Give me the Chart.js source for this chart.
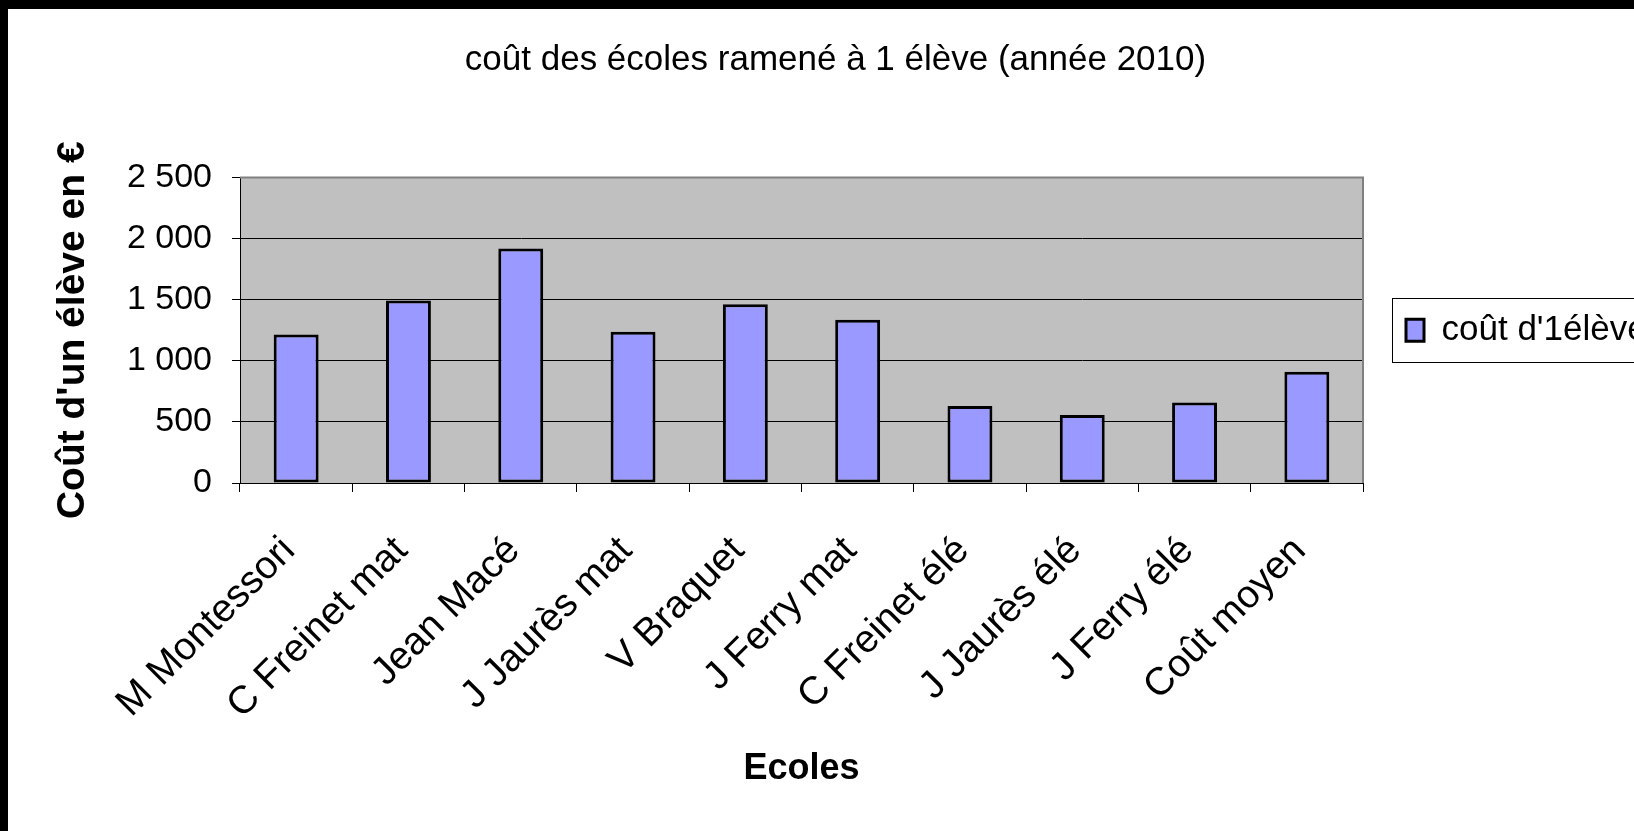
<!DOCTYPE html>
<html><head><meta charset="utf-8">
<script src="https://cdn.jsdelivr.net/npm/chart.js@4/dist/chart.umd.min.js"></script>
<style>
html,body{margin:0;padding:0;background:#000;overflow:hidden;width:1634px;height:831px}
#wrap{position:absolute;left:8px;top:9px;width:1626px;height:822px;background:#fff;overflow:hidden}
canvas{display:block}
</style></head><body>
<div id="wrap"><canvas id="c" width="1626" height="822"></canvas></div>
<script>
const categories = ['M Montessori', 'C Freinet mat', 'Jean Macé', 'J Jaurès mat', 'V Braquet', 'J Ferry mat', 'C Freinet élé', 'J Jaurès élé', 'J Ferry élé', 'Coût moyen'];
const costPerPupil = [1215, 1494, 1920, 1237, 1463, 1335, 630, 557, 658, 911];
const yTickValues = [0, 500, 1000, 1500, 2000, 2500];
const seriesName = "coût d'1élève";
const chartTitle = 'coût des écoles ramené à 1 élève (année 2010)';
const yAxisTitle = "Coût d'un élève en €";
const xAxisTitle = 'Ecoles';

const FONT = "'Liberation Sans', Arial, sans-serif";
const fmt = v => String(v).replace(/\B(?=(\d{3})+(?!\d))/g, ' ');

const plotFrame = {
  id: 'plotFrame',
  beforeDraw(chart) {
    const {ctx, chartArea: a} = chart;
    ctx.save();
    ctx.fillStyle = '#C0C0C0';
    ctx.fillRect(a.left, a.top, a.width, a.height);
    ctx.restore();
  },
  beforeDatasetsDraw(chart) {
    const {ctx, chartArea: a} = chart;
    ctx.save();
    ctx.strokeStyle = '#808080';
    ctx.lineWidth = 2;
    ctx.beginPath();
    ctx.moveTo(a.left, a.top);
    ctx.lineTo(a.right, a.top);
    ctx.lineTo(a.right, a.bottom);
    ctx.stroke();
    ctx.restore();
  },
  afterDraw(chart) {
    const lg = chart.legend;
    if (!lg || !lg.legendHitBoxes || !lg.legendHitBoxes.length) return;
    const hb = lg.legendHitBoxes[0];
    const cy = hb.top + hb.height / 2;
    const ctx = chart.ctx;
    ctx.save();
    ctx.strokeStyle = '#000';
    ctx.lineWidth = 1;
    ctx.strokeRect(Math.round(hb.left - 14) + 0.5, Math.round(cy - 32) + 0.5, chart.width, 64);
    ctx.restore();
  }
};

new Chart(document.getElementById('c'), {
  type: 'bar',
  data: {
    labels: categories,
    datasets: [{
      label: seriesName,
      data: costPerPupil,
      backgroundColor: '#9999FF',
      borderColor: '#000',
      borderWidth: 3,
      borderSkipped: false,
      barPercentage: 0.4,
      categoryPercentage: 1
    }]
  },
  plugins: [plotFrame],
  options: {
    responsive: false,
    animation: false,
    devicePixelRatio: 1,
    layout: {padding: {left: 29, right: 0, top: 0, bottom: 0}},
    plugins: {
      tooltip: {enabled: false},
      title: {
        display: true,
        text: chartTitle,
        color: '#000',
        font: {family: FONT, size: 35, weight: 'normal'},
        padding: {top: 30, bottom: 96.5}
      },
      legend: {
        display: true,
        position: 'right',
        fullSize: false,
        maxWidth: 271,
        labels: {
          color: '#000',
          font: {family: FONT, size: 35},
          boxWidth: 18,
          boxHeight: 22,
          padding: 43
        }
      }
    },
    scales: {
      x: {
        grid: {display: true, drawOnChartArea: false, drawTicks: true, tickLength: 9, color: '#000', offset: true},
        border: {display: true, color: '#000', width: 1},
        ticks: {color: '#000', font: {family: FONT, size: 39}, minRotation: 45, maxRotation: 45, autoSkip: false, padding: 36, labelOffset: -7},
        title: {display: true, text: xAxisTitle, color: '#000', font: {family: FONT, size: 36, weight: 'bold'}, padding: {top: 0, bottom: 40}},
        afterFit(s) { s.height = 348; }
      },
      y: {
        min: 0,
        max: 2500,
        afterBuildTicks(s) { s.ticks = yTickValues.map(v => ({value: v})); },
        grid: {
          color: ctx => (ctx.tick && ctx.tick.value === 2500) ? 'rgba(0,0,0,0)' : '#000',
          tickColor: '#000',
          tickLength: 8,
          lineWidth: 1
        },
        border: {display: true, color: '#000', width: 1},
        ticks: {color: '#000', font: {family: FONT, size: 34}, padding: 20, callback: v => fmt(v)},
        title: {display: true, text: yAxisTitle, color: '#000', font: {family: FONT, size: 39, weight: 'bold'}, padding: {top: 13, bottom: 0}},
        afterFit(s) { s.width = 203; }
      }
    }
  }
});
</script>
</body></html>
